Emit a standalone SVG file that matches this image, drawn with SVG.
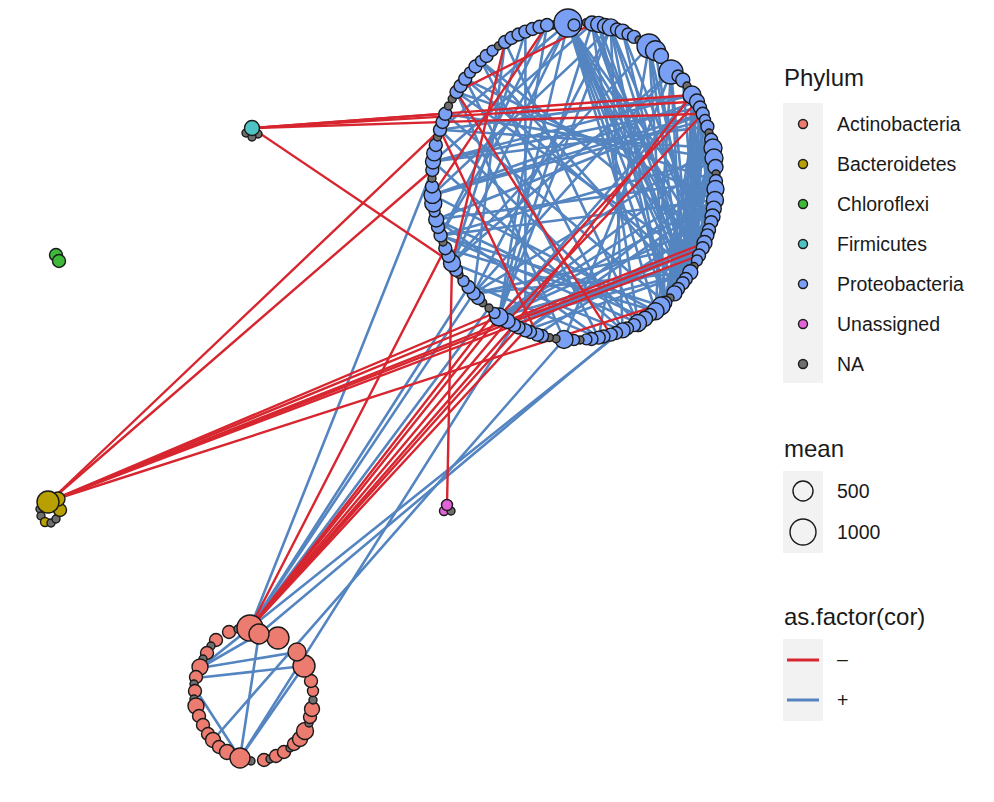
<svg xmlns="http://www.w3.org/2000/svg" width="994" height="802" viewBox="0 0 994 802">
<style>
.pos line{stroke:#5485c1;stroke-width:2.6;stroke-linecap:round}
.neg line{stroke:#d7262f;stroke-width:2.4;stroke-linecap:round}
circle{stroke:#1a1a1a;stroke-width:1.4}
.p{fill:#7aa0f5}.n{fill:#6e6e6e}.a{fill:#ec7b70}.b{fill:#b8a000}.c{fill:#3fb93a}.f{fill:#4fc3c3}.u{fill:#e262d8}
text{font-family:Arial,"Liberation Sans",sans-serif;fill:#1a1a1a}
.tt{font-size:24px}.lb{font-size:19.5px}
</style>
<rect width="994" height="802" fill="#ffffff"/>
<g id="connectors">
<g class="pos">
<line x1="568" y1="23" x2="690.3" y2="272.2"/><line x1="568" y1="23" x2="682.8" y2="283.2"/><line x1="568" y1="23" x2="697" y2="260.5"/><line x1="568" y1="23" x2="704.5" y2="243"/><line x1="568" y1="23" x2="665.3" y2="302.8"/><line x1="568" y1="23" x2="655.5" y2="311.3"/><line x1="568" y1="23" x2="711.2" y2="222.2"/><line x1="568" y1="23" x2="685.8" y2="279"/><line x1="568" y1="23" x2="674.4" y2="293.4"/><line x1="568" y1="23" x2="440.6" y2="235.4"/><line x1="568" y1="23" x2="452" y2="263"/>
<line x1="592" y1="24" x2="682.8" y2="283.2"/><line x1="592" y1="24" x2="697" y2="260.5"/><line x1="592" y1="24" x2="685.8" y2="279"/>
<line x1="598.7" y1="24.4" x2="690.3" y2="272.2"/><line x1="598.7" y1="24.4" x2="665.3" y2="302.8"/>
<line x1="610.8" y1="27.4" x2="665.3" y2="302.8"/><line x1="610.8" y1="27.4" x2="690.3" y2="272.2"/><line x1="610.8" y1="27.4" x2="702.7" y2="248.2"/>
<line x1="622.6" y1="31.6" x2="682.8" y2="283.2"/><line x1="622.6" y1="31.6" x2="704.5" y2="243"/>
<line x1="649" y1="46" x2="697" y2="260.5"/><line x1="649" y1="46" x2="665.3" y2="302.8"/><line x1="649" y1="46" x2="682.8" y2="283.2"/>
<line x1="655.5" y1="50.7" x2="690.3" y2="272.2"/>
<line x1="671" y1="72" x2="690.3" y2="272.2"/><line x1="671" y1="72" x2="682.8" y2="283.2"/><line x1="671" y1="72" x2="655.5" y2="311.3"/>
<line x1="682.8" y1="78.8" x2="697" y2="260.5"/>
<line x1="692" y1="95" x2="682.8" y2="283.2"/><line x1="692" y1="95" x2="690.3" y2="272.2"/><line x1="692" y1="95" x2="697" y2="260.5"/><line x1="692" y1="95" x2="704.5" y2="243"/>
<line x1="697" y1="101.5" x2="682.8" y2="283.2"/><line x1="697" y1="101.5" x2="665.3" y2="302.8"/><line x1="697" y1="101.5" x2="711.2" y2="222.2"/><line x1="697" y1="101.5" x2="674.4" y2="293.4"/>
<line x1="700" y1="107.5" x2="690.3" y2="272.2"/><line x1="700" y1="107.5" x2="685.8" y2="279"/>
<line x1="702.7" y1="113.8" x2="690.3" y2="272.2"/><line x1="702.7" y1="113.8" x2="655.5" y2="311.3"/><line x1="702.7" y1="113.8" x2="697" y2="260.5"/>
<line x1="705" y1="120" x2="682.8" y2="283.2"/><line x1="705" y1="120" x2="665.3" y2="302.8"/>
<line x1="707.4" y1="126.6" x2="682.8" y2="283.2"/><line x1="707.4" y1="126.6" x2="674.4" y2="293.4"/>
<line x1="711.2" y1="139.8" x2="690.3" y2="272.2"/>
<line x1="713" y1="148" x2="665.3" y2="302.8"/><line x1="713" y1="148" x2="682.8" y2="283.2"/>
<line x1="714" y1="158" x2="682.8" y2="283.2"/><line x1="714" y1="158" x2="661" y2="306"/>
<line x1="715.5" y1="167" x2="690.3" y2="272.2"/>
<line x1="716" y1="181" x2="690.3" y2="272.2"/><line x1="716" y1="181" x2="665.3" y2="302.8"/>
<line x1="715" y1="200" x2="682.8" y2="283.2"/>
<line x1="432.5" y1="194.9" x2="697" y2="101.5"/><line x1="432.5" y1="194.9" x2="702.7" y2="113.8"/><line x1="433" y1="161.5" x2="692" y2="95"/><line x1="433" y1="161.5" x2="707.4" y2="126.6"/><line x1="440" y1="129.8" x2="692" y2="95"/><line x1="440" y1="129.8" x2="713" y2="148"/><line x1="436.2" y1="219.5" x2="702.7" y2="113.8"/><line x1="436.2" y1="219.5" x2="716" y2="181"/><line x1="440.6" y1="235.4" x2="714" y2="158"/><line x1="440.6" y1="235.4" x2="715" y2="200"/><line x1="433" y1="161.5" x2="700" y2="107.5"/><line x1="432.5" y1="194.9" x2="705" y2="120"/>
<line x1="440" y1="129.8" x2="638" y2="323"/><line x1="433" y1="161.5" x2="622.6" y2="330.4"/><line x1="445.3" y1="113.8" x2="665.3" y2="302.8"/><line x1="432.5" y1="194.9" x2="655.5" y2="311.3"/><line x1="436.2" y1="219.5" x2="598.7" y2="337.6"/>
<line x1="499" y1="317" x2="716" y2="181"/><line x1="499" y1="317" x2="715" y2="200"/><line x1="499" y1="317" x2="714" y2="158"/><line x1="499" y1="317" x2="711.2" y2="222.2"/><line x1="473.6" y1="293.4" x2="713" y2="148"/><line x1="473.6" y1="293.4" x2="704.5" y2="243"/><line x1="525.4" y1="330.4" x2="715" y2="200"/><line x1="525.4" y1="330.4" x2="716" y2="181"/><line x1="507.5" y1="321" x2="697" y2="260.5"/><line x1="507.5" y1="321" x2="690.3" y2="272.2"/><line x1="514" y1="325.1" x2="704.5" y2="243"/><line x1="514" y1="325.1" x2="702.7" y2="248.2"/><line x1="499" y1="317" x2="697" y2="260.5"/><line x1="525.4" y1="330.4" x2="690.3" y2="272.2"/><line x1="473.6" y1="293.4" x2="690.3" y2="272.2"/><line x1="537.2" y1="334.6" x2="711.2" y2="222.2"/>
<line x1="499" y1="317" x2="692" y2="95"/><line x1="473.6" y1="293.4" x2="671" y2="72"/><line x1="452" y1="263" x2="649" y2="46"/><line x1="452" y1="263" x2="671" y2="72"/>
<line x1="456.5" y1="92" x2="564" y2="339.5"/><line x1="465.2" y1="78.8" x2="598.7" y2="337.6"/><line x1="481" y1="61" x2="622.6" y2="330.4"/><line x1="505" y1="42" x2="638" y2="323"/><line x1="525.4" y1="31.6" x2="525.4" y2="330.4"/><line x1="547" y1="25" x2="499" y2="317"/>
<line x1="568" y1="23" x2="440" y2="129.8"/><line x1="592" y1="24" x2="433" y2="161.5"/><line x1="610.8" y1="27.4" x2="432.5" y2="194.9"/>
<line x1="456.5" y1="92" x2="697" y2="260.5"/><line x1="465.2" y1="78.8" x2="690.3" y2="272.2"/><line x1="481" y1="61" x2="682.8" y2="283.2"/><line x1="481" y1="61" x2="704.5" y2="243"/>
<line x1="505" y1="42" x2="473.6" y2="293.4"/><line x1="525.4" y1="31.6" x2="452" y2="263"/><line x1="547" y1="25" x2="440.6" y2="235.4"/>
<line x1="564" y1="339.5" x2="671" y2="72"/><line x1="598.7" y1="337.6" x2="649" y2="46"/><line x1="622.6" y1="330.4" x2="610.8" y2="27.4"/><line x1="638" y1="323" x2="592" y2="24"/>
<line x1="499" y1="317" x2="568" y2="23"/><line x1="499" y1="317" x2="592" y2="24"/><line x1="499" y1="317" x2="610.8" y2="27.4"/><line x1="473.6" y1="293.4" x2="610.8" y2="27.4"/>
<line x1="445.3" y1="113.8" x2="714" y2="158"/><line x1="456.5" y1="92" x2="716" y2="181"/><line x1="465.2" y1="78.8" x2="715" y2="200"/>
<line x1="440.6" y1="235.4" x2="638" y2="323"/><line x1="452" y1="263" x2="622.6" y2="330.4"/><line x1="463.5" y1="281" x2="598.7" y2="337.6"/><line x1="445.3" y1="248.2" x2="655.5" y2="311.3"/>
<line x1="440.6" y1="235.4" x2="661" y2="306"/><line x1="436.2" y1="219.5" x2="645" y2="318.7"/>
<line x1="250" y1="628" x2="432.3" y2="170"/><line x1="250" y1="628" x2="473.6" y2="293.4"/><line x1="250" y1="628" x2="468.5" y2="287"/><line x1="250" y1="628" x2="489" y2="308"/><line x1="240" y1="758" x2="514" y2="325.1"/><line x1="200" y1="668" x2="622.6" y2="330.4"/><line x1="213" y1="740" x2="564" y2="339.5"/><line x1="259" y1="634" x2="690.3" y2="272.2"/>
<line x1="200" y1="668" x2="259" y2="634"/><line x1="200" y1="668" x2="297" y2="652"/><line x1="196" y1="678" x2="304" y2="666"/><line x1="196" y1="690" x2="240" y2="758"/><line x1="259" y1="634" x2="240" y2="758"/><line x1="240" y1="758" x2="304" y2="666"/>
</g>
<g class="neg">
<line x1="456.5" y1="92" x2="610.8" y2="334.6"/><line x1="440" y1="129.8" x2="537.2" y2="334.6"/><line x1="547" y1="25" x2="432.5" y2="194.9"/><line x1="505" y1="42" x2="452" y2="263"/><line x1="697" y1="101.5" x2="499" y2="317"/><line x1="702.7" y1="113.8" x2="507.5" y2="321"/><line x1="692" y1="95" x2="514" y2="325.1"/><line x1="592" y1="24" x2="456.5" y2="92"/>
<line x1="50" y1="501" x2="440" y2="129.8"/><line x1="50" y1="501" x2="432.3" y2="170"/><line x1="50" y1="501" x2="499" y2="317"/><line x1="50" y1="501" x2="494.5" y2="313"/><line x1="50" y1="501" x2="704.5" y2="243"/><line x1="50" y1="501" x2="702.7" y2="248.2"/><line x1="50" y1="501" x2="699" y2="255.5"/><line x1="50" y1="501" x2="665.3" y2="302.8"/>
<line x1="252" y1="128" x2="692" y2="95"/><line x1="252" y1="128" x2="697" y2="101.5"/><line x1="252" y1="128" x2="702.7" y2="113.8"/><line x1="252" y1="128" x2="445.3" y2="113.8"/><line x1="252" y1="128" x2="452" y2="263"/>
<line x1="250" y1="628" x2="499" y2="317"/><line x1="250" y1="628" x2="494.5" y2="313"/><line x1="250" y1="628" x2="507.5" y2="321"/><line x1="250" y1="628" x2="514" y2="325.1"/><line x1="250" y1="628" x2="518.5" y2="327.5"/><line x1="250" y1="628" x2="525.4" y2="330.4"/><line x1="250" y1="628" x2="445.3" y2="248.2"/>
<line x1="447" y1="505" x2="452" y2="263"/>
</g>
</g>
<g id="proteobacteria_module">
<circle class="n" cx="553" cy="25" r="4"/><circle class="n" cx="586.4" cy="22.6" r="4"/><circle class="p" cx="592" cy="23.5" r="7.5"/><circle class="p" cx="598.7" cy="24.4" r="8"/><circle class="p" cx="605" cy="26" r="7.5"/><circle class="p" cx="610.8" cy="27.4" r="8.5"/><circle class="p" cx="617" cy="29.5" r="6.5"/><circle class="p" cx="622.6" cy="31.6" r="7.5"/><circle class="p" cx="628" cy="34" r="6"/><circle class="p" cx="634" cy="36.9" r="6.5"/><circle class="n" cx="639" cy="40" r="4"/><circle class="p" cx="649" cy="46" r="12"/><circle class="p" cx="655.5" cy="50.7" r="10"/><circle class="p" cx="661" cy="56" r="7.5"/><circle class="p" cx="671" cy="72" r="12"/><circle class="p" cx="678" cy="76" r="6"/><circle class="p" cx="682.8" cy="80" r="7"/><circle class="n" cx="687" cy="86" r="4"/><circle class="p" cx="692" cy="95" r="9"/><circle class="p" cx="697" cy="101.5" r="7.5"/><circle class="p" cx="700" cy="107.5" r="6.5"/><circle class="p" cx="702.7" cy="113.8" r="6.5"/><circle class="p" cx="705" cy="120" r="5.5"/><circle class="p" cx="707.4" cy="126.6" r="6.5"/><circle class="n" cx="709" cy="133" r="4"/><circle class="p" cx="711.2" cy="139.8" r="6.5"/><circle class="p" cx="713" cy="148" r="9"/><circle class="p" cx="714" cy="158" r="9"/><circle class="p" cx="715.5" cy="167" r="7.5"/><circle class="n" cx="716" cy="174" r="4"/><circle class="p" cx="716" cy="181" r="6.5"/><circle class="p" cx="715.5" cy="189" r="8.5"/><circle class="p" cx="715" cy="200" r="8.5"/><circle class="p" cx="713.8" cy="208.6" r="7.5"/><circle class="p" cx="712.5" cy="216.5" r="7.5"/><circle class="p" cx="711.2" cy="222.2" r="6.5"/><circle class="p" cx="709" cy="230" r="6.5"/><circle class="p" cx="707.4" cy="235.4" r="6.5"/><circle class="p" cx="704.5" cy="243" r="7.5"/><circle class="p" cx="702.7" cy="248.2" r="6.5"/><circle class="p" cx="699" cy="255.5" r="6.5"/><circle class="p" cx="697" cy="260.5" r="5.5"/><circle class="n" cx="694" cy="266.5" r="4"/><circle class="p" cx="690.3" cy="272.2" r="7.5"/><circle class="p" cx="685.8" cy="279" r="6.5"/><circle class="p" cx="682.8" cy="283.2" r="6.5"/><circle class="p" cx="678" cy="289" r="6.5"/><circle class="p" cx="674.4" cy="293.4" r="7.5"/><circle class="n" cx="670" cy="298" r="4"/><circle class="p" cx="665.3" cy="302.8" r="6.5"/><circle class="p" cx="661" cy="306" r="9"/><circle class="p" cx="655.5" cy="311.3" r="8.5"/><circle class="p" cx="650" cy="315" r="6.5"/><circle class="p" cx="645" cy="318.7" r="7.5"/><circle class="p" cx="638" cy="323" r="8.5"/><circle class="p" cx="634" cy="325.1" r="6.5"/><circle class="p" cx="627" cy="328.5" r="6.5"/><circle class="p" cx="622.6" cy="330.4" r="7.5"/><circle class="p" cx="616" cy="333" r="6.5"/><circle class="p" cx="610.8" cy="334.6" r="6.5"/><circle class="p" cx="603.5" cy="336.5" r="6.5"/><circle class="p" cx="598.7" cy="337.6" r="6.5"/><circle class="p" cx="591.5" cy="339" r="6.5"/><circle class="p" cx="586.4" cy="339.4" r="5.5"/><circle class="n" cx="580" cy="340" r="4"/><circle class="p" cx="574" cy="340" r="5.5"/><circle class="p" cx="564" cy="339.5" r="9"/><circle class="n" cx="556" cy="338.8" r="4"/><circle class="n" cx="549.3" cy="337.6" r="4"/><circle class="p" cx="542" cy="336" r="6.5"/><circle class="p" cx="537.2" cy="334.6" r="6.5"/><circle class="p" cx="530" cy="332" r="6.5"/><circle class="p" cx="525.4" cy="330.4" r="6.5"/><circle class="p" cx="518.5" cy="327.5" r="6.5"/><circle class="p" cx="514" cy="325.1" r="6.5"/><circle class="p" cx="507.5" cy="321" r="7.5"/><circle class="p" cx="499" cy="317" r="9"/><circle class="p" cx="494.5" cy="313" r="5.5"/><circle class="n" cx="489" cy="308" r="4"/><circle class="n" cx="482.7" cy="302.8" r="4"/><circle class="p" cx="478" cy="298" r="6.5"/><circle class="p" cx="473.6" cy="293.4" r="6.5"/><circle class="p" cx="468.5" cy="287" r="6.5"/><circle class="p" cx="463.5" cy="281" r="5.5"/><circle class="n" cx="459" cy="274.5" r="4"/><circle class="p" cx="456" cy="270" r="6.5"/><circle class="p" cx="452" cy="263" r="8.5"/><circle class="p" cx="448.5" cy="256" r="6.5"/><circle class="p" cx="445.3" cy="248.2" r="6.5"/><circle class="n" cx="443" cy="242" r="4"/><circle class="p" cx="440.6" cy="235.4" r="6.5"/><circle class="p" cx="438" cy="227" r="6.5"/><circle class="p" cx="436.2" cy="219.5" r="7.5"/><circle class="p" cx="434.6" cy="211.5" r="5.5"/><circle class="p" cx="433.3" cy="203.5" r="8.5"/><circle class="p" cx="432.5" cy="194.9" r="8.5"/><circle class="p" cx="432" cy="186.5" r="6.5"/><circle class="n" cx="432" cy="178.2" r="4"/><circle class="p" cx="432.3" cy="170" r="6.5"/><circle class="p" cx="433" cy="161.5" r="7.5"/><circle class="p" cx="434.2" cy="153.4" r="7.5"/><circle class="p" cx="435.8" cy="145" r="6.5"/><circle class="n" cx="437.5" cy="137" r="4"/><circle class="p" cx="440" cy="129.8" r="6.5"/><circle class="p" cx="442.5" cy="122" r="6.5"/><circle class="p" cx="445.3" cy="113.8" r="6.5"/><circle class="n" cx="448.5" cy="106" r="4"/><circle class="n" cx="452.2" cy="99" r="4"/><circle class="p" cx="456.5" cy="92" r="6.5"/><circle class="p" cx="460.5" cy="86" r="6.5"/><circle class="p" cx="465.2" cy="78.8" r="6.5"/><circle class="p" cx="470" cy="72.5" r="5.5"/><circle class="p" cx="475.5" cy="66.5" r="6.5"/><circle class="p" cx="481" cy="61" r="5.5"/><circle class="p" cx="486.5" cy="56" r="6.5"/><circle class="p" cx="492.5" cy="50.7" r="5.5"/><circle class="n" cx="498.5" cy="46" r="4"/><circle class="p" cx="505" cy="42" r="6.5"/><circle class="p" cx="511.5" cy="38" r="6.5"/><circle class="p" cx="518.5" cy="34.5" r="6.5"/><circle class="p" cx="525.4" cy="31.6" r="6.5"/><circle class="p" cx="532.5" cy="29" r="6.5"/><circle class="p" cx="539.5" cy="26.8" r="6.5"/><circle class="p" cx="547" cy="25" r="6.5"/>
<circle class="p" cx="568" cy="23" r="14"/><circle class="p" cx="574" cy="25" r="6"/>
</g>
<g id="actinobacteria_module">
<circle class="a" cx="229" cy="632" r="6.5"/><circle class="n" cx="238" cy="629" r="4"/><circle class="a" cx="216" cy="640" r="6.5"/><circle class="n" cx="211" cy="646" r="4"/><circle class="a" cx="207" cy="653" r="6.5"/><circle class="n" cx="203" cy="659" r="4"/><circle class="a" cx="200" cy="667" r="8"/><circle class="a" cx="196" cy="677" r="6.5"/><circle class="n" cx="194" cy="684" r="4"/><circle class="a" cx="195" cy="691" r="6.5"/><circle class="n" cx="194" cy="699" r="4"/><circle class="a" cx="196" cy="706" r="8"/><circle class="a" cx="199" cy="716" r="6.5"/><circle class="a" cx="203" cy="725" r="6.5"/><circle class="a" cx="208" cy="734" r="6.5"/><circle class="a" cx="213" cy="740" r="7.5"/><circle class="a" cx="219" cy="747" r="6.5"/><circle class="a" cx="227" cy="752" r="7.5"/><circle class="n" cx="251" cy="761" r="4"/><circle class="a" cx="264" cy="760" r="6.5"/><circle class="n" cx="270" cy="759" r="4"/><circle class="a" cx="276" cy="756" r="6.5"/><circle class="a" cx="284" cy="752" r="6.5"/><circle class="n" cx="290" cy="748" r="4"/><circle class="a" cx="294" cy="744" r="6.5"/><circle class="a" cx="300" cy="739" r="7.5"/><circle class="a" cx="305" cy="731" r="8.5"/><circle class="n" cx="309" cy="723" r="4"/><circle class="a" cx="310" cy="717" r="6.5"/><circle class="a" cx="312" cy="709" r="7.5"/><circle class="n" cx="313" cy="700" r="4"/><circle class="a" cx="313" cy="691" r="5.5"/><circle class="a" cx="311" cy="681" r="6.5"/><circle class="a" cx="304" cy="666" r="11"/><circle class="a" cx="297" cy="652" r="9"/><circle class="a" cx="278" cy="638" r="11"/><circle class="a" cx="240" cy="758" r="10"/><circle class="n" cx="244" cy="632" r="4"/><circle class="a" cx="250" cy="628" r="13"/><circle class="a" cx="259" cy="634" r="10"/>
</g>
<g id="bacteroidetes_module">
<circle class="n" cx="40" cy="509" r="4"/><circle class="n" cx="41" cy="516" r="4"/><circle class="b" cx="45" cy="522" r="4.5"/><circle class="n" cx="51" cy="523" r="4"/><circle class="n" cx="56" cy="519" r="4"/><circle class="b" cx="60" cy="510" r="6.5"/><circle class="b" cx="58" cy="499" r="7"/><circle class="b" cx="48" cy="502" r="11"/>
</g>
<g id="firmicutes_module">
<circle class="n" cx="246" cy="133" r="4"/><circle class="n" cx="258" cy="134" r="4"/><circle class="n" cx="252" cy="137" r="4"/><circle class="f" cx="252" cy="128" r="7.5"/>
</g>
<g id="chloroflexi_module">
<circle class="c" cx="56" cy="255" r="6.5"/><circle class="c" cx="59" cy="261" r="6.5"/>
</g>
<g id="unassigned_module">
<circle class="u" cx="444" cy="511" r="4.5"/><circle class="n" cx="451" cy="511" r="4"/><circle class="u" cx="447" cy="505" r="5.5"/>
</g>
<g id="legend">
<text class="tt" x="784" y="86">Phylum</text>
<rect x="783" y="103" width="40" height="280" fill="#f2f2f2"/>
<circle class="a" cx="803" cy="124" r="4.5"/><circle class="b" cx="803" cy="164" r="4.5"/><circle class="c" cx="803" cy="204" r="4.5"/><circle class="f" cx="803" cy="244" r="4.5"/><circle class="p" cx="803" cy="284" r="4.5"/><circle class="u" cx="803" cy="324" r="4.5"/><circle class="n" cx="803" cy="364" r="4.5"/>
<text class="lb" x="837" y="131">Actinobacteria</text><text class="lb" x="837" y="171">Bacteroidetes</text><text class="lb" x="837" y="211">Chloroflexi</text><text class="lb" x="837" y="251">Firmicutes</text><text class="lb" x="837" y="291">Proteobacteria</text><text class="lb" x="837" y="331">Unassigned</text><text class="lb" x="837" y="371">NA</text>
<text class="tt" x="784" y="457">mean</text>
<rect x="783" y="471" width="40" height="82" fill="#f2f2f2"/>
<circle cx="803" cy="491" r="10" fill="none"/><circle cx="803" cy="532" r="13" fill="none"/>
<text class="lb" x="837" y="498">500</text><text class="lb" x="837" y="539">1000</text>
<text class="tt" x="784" y="625">as.factor(cor)</text>
<rect x="783" y="639" width="40" height="82" fill="#f2f2f2"/>
<line x1="787" y1="660" x2="819" y2="660" stroke="#d7262f" stroke-width="3"/>
<line x1="787" y1="700" x2="819" y2="700" stroke="#5485c1" stroke-width="3"/>
<text class="lb" x="837" y="666">–</text><text class="lb" x="837" y="707">+</text>
</g>
</svg>
